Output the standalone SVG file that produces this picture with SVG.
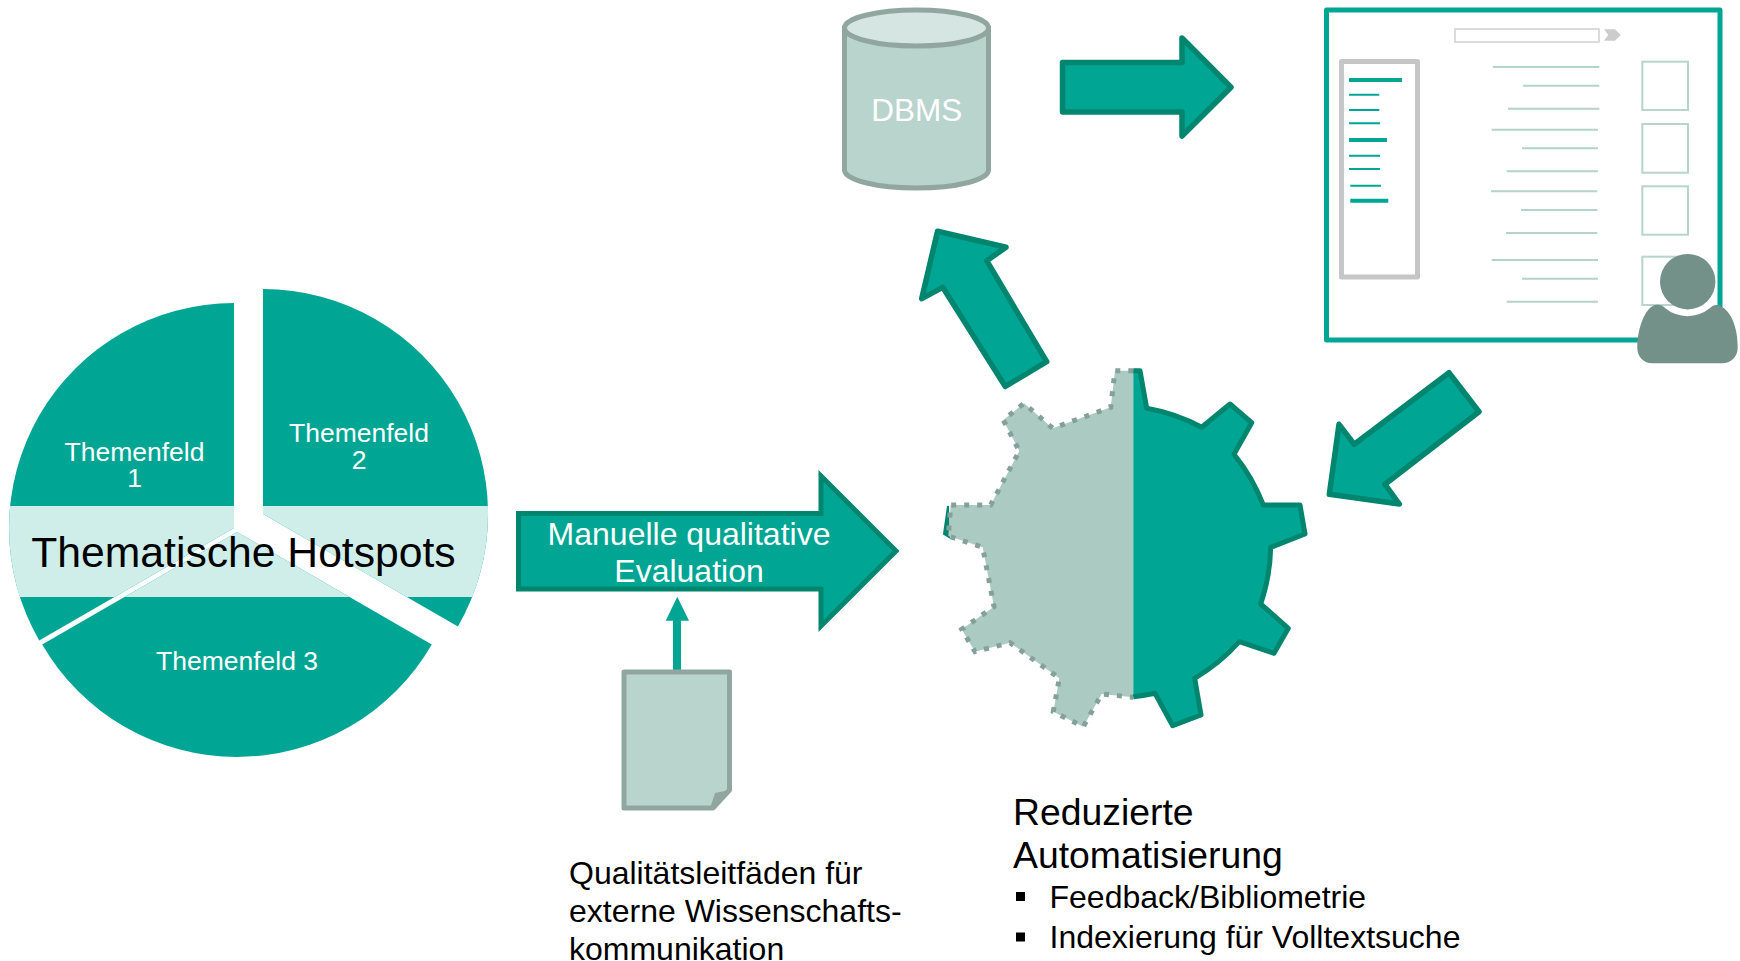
<svg xmlns="http://www.w3.org/2000/svg" width="1740" height="961" viewBox="0 0 1740 961">
<style>
text{font-family:"Liberation Sans",Arial,sans-serif}
.w{fill:#fff}.k{fill:#000}.m{text-anchor:middle}
.slice{fill:#00a693}.band{fill:#cfeeea}
.arrow{fill:#00a693;stroke:#00856f;stroke-width:5.500;stroke-linejoin:round}
.grey{fill:#b8d4cc;stroke:#91a69f;stroke-width:5;stroke-linejoin:round}
.tl{stroke:#00a693;fill:none}.ll{stroke:#b5d3cb;stroke-width:2;fill:none}
.sq{fill:none;stroke:#b8d4cc;stroke-width:2}
</style>
<defs>
<path id="s1" d="M234,528V303A225,225 0 0 0 39.200,640.500Z"/>
<path id="s2" d="M263,514V289A225,225 0 0 1 457.900,626.500Z"/>
<path id="s3" d="M237,532L42.200,644.500A225,225 0 0 0 431.800,644.500Z"/>
<clipPath id="bandClip"><rect x="0" y="506" width="520" height="91"/></clipPath>
</defs>
<rect width="1740" height="961" fill="#fff"/>
<g id="pie">
<use href="#s1" class="slice"/><use href="#s2" class="slice"/><use href="#s3" class="slice"/>
<g clip-path="url(#bandClip)"><use href="#s1" class="band"/><use href="#s2" class="band"/><use href="#s3" class="band"/></g>
<g font-size="26.5" class="w m">
<text x="134.5" y="461">Themenfeld</text><text x="134.5" y="487">1</text>
<text x="359" y="442">Themenfeld</text><text x="359" y="469">2</text>
<text x="237" y="670">Themenfeld 3</text>
</g>
<text x="243.500" y="567" font-size="42.67" class="k m">Thematische Hotspots</text>
</g>
<g id="connectors">
<g id="arrow-evaluation">
<path d="M518.500,513.500H821V476L896,551L821,626V589H518.500Z" class="arrow" style="stroke-linejoin:miter;stroke-width:5"/>
<g font-size="32" class="w m"><text x="689" y="545">Manuelle qualitative</text><text x="689" y="582">Evaluation</text></g>
</g>
<path id="arrow-doc" d="M673,672V620.700H665.700L677.300,596.700L689,620.700H681V672Z" fill="#00a693"/>
<path id="arrow-db-screen" d="M1062.500,62.500H1182V38L1231,87.300L1182,136V112H1062.500Z" class="arrow"/>
<path id="arrow-gear-db" d="M937.500,231.300L1006,247.300L986.700,260.700L1046.700,361.700L1005.300,386.500L942.700,287.300L921.700,298.700Z" class="arrow"/>
<path id="arrow-screen-gear" d="M1449,372.700L1479,411.700L1385,484.300L1399.300,504L1329.300,494.300L1339,424.300L1354.300,444.300Z" class="arrow"/>
</g>
<g id="document">
<path d="M624,672H729.500V790L713,808H624Z" class="grey"/>
<path d="M729.500,790L715,793Q713,800 710,808L714,808Z" fill="#91a69f"/>
<text x="569" y="884" font-size="32" class="k">Qualitätsleitfäden für</text>
<text x="569" y="922" font-size="32" class="k">externe Wissenschafts-</text>
<text x="569" y="959.500" font-size="32" class="k">kommunikation</text>
</g>
<g id="dbms">
<path d="M844.500,28V170A72,18 0 0 0 988.500,170V28Z" class="grey"/>
<ellipse cx="916.500" cy="28" rx="72" ry="18" fill="#d5e6e2" stroke="#91a69f" stroke-width="5"/>
<text x="916.700" y="121" font-size="31.500" class="w m">DBMS</text>
</g>
<g id="gear">
<path d="M948,506L944,534L949,537Z" fill="#00856f" stroke="#00856f" stroke-width="2"/>
<path d="M1133.300,370.700H1115L1110.700,407.300L1052.700,428.300L1024,403.300L1003.300,420L1019.300,451L990.700,505H950.700L948.300,536L982.700,547.300L994,606.700L961.700,629.300L975,651.700L1010,642.700L1059.300,678.300L1053.300,711.700L1083.300,726.700L1101.700,694L1133.300,697.300" fill="#abcac1" stroke="#85a09a" stroke-width="5" stroke-dasharray="5 8"/>
<path d="M1133.300,370.700H1140L1146.700,408.300A186,186 0 0 1 1201.700,427.300L1230,404L1251.700,422.700L1234,454.300A186,186 0 0 1 1263.300,505H1300L1305,534L1270.700,547.300A186,186 0 0 1 1260.700,604L1288.300,628.300L1274,653.300L1239.300,641.700A186,186 0 0 1 1194.700,678.300L1201,715L1172.700,725.700L1155,693.300A186,186 0 0 1 1133.300,696.700Z" fill="#00a693" stroke="none"/>
<path d="M1133.300,370.700H1140L1146.700,408.300A186,186 0 0 1 1201.700,427.300L1230,404L1251.700,422.700L1234,454.300A186,186 0 0 1 1263.300,505H1300L1305,534L1270.700,547.300A186,186 0 0 1 1260.700,604L1288.300,628.300L1274,653.300L1239.300,641.700A186,186 0 0 1 1194.700,678.300L1201,715L1172.700,725.700L1155,693.300A186,186 0 0 1 1133.300,696.700" fill="none" stroke="#00856f" stroke-width="5" stroke-linejoin="round"/>
<text x="1013" y="825" font-size="37.330" class="k">Reduzierte</text>
<text x="1013" y="867.700" font-size="37.330" class="k">Automatisierung</text>
<rect x="1016" y="892" width="9" height="9" fill="#000"/>
<text x="1049.500" y="908" font-size="32" class="k">Feedback/Bibliometrie</text>
<rect x="1016" y="932.500" width="9" height="9" fill="#000"/>
<text x="1049.500" y="948" font-size="32" class="k">Indexierung für Volltextsuche</text>
</g>
<g id="screen">
<rect x="1326.500" y="10" width="393.500" height="330" fill="#fff" stroke="#00a693" stroke-width="5" stroke-linejoin="round"/>
<rect x="1455" y="29" width="144" height="13" fill="#fff" stroke="#d0d0d0" stroke-width="1.500"/>
<path d="M1604,29.300H1615L1620.700,35L1615,40.700H1604L1608.300,35Z" fill="#ccc"/>
<rect x="1341.500" y="61.500" width="76" height="215.500" fill="#fff" stroke="#c6c6c6" stroke-width="5" stroke-linejoin="round"/>
<g class="tl">
<path d="M1349,80H1402M1349,140H1387M1350.300,200.700H1388.300" stroke-width="4"/>
<path d="M1349,94.700H1379.300M1349,110H1379.300M1349,123.300H1380M1349,155.700H1380M1349,169H1380M1350.300,185.700H1381" stroke-width="2"/>
</g>
<path class="ll" d="M1493,67H1599.300M1523,85.700H1599.300M1508,108.700H1599.300M1491.700,129.700H1598M1522,148.300H1598M1506.700,171.300H1598M1491,191.300H1597.300M1521,210H1597.300M1506,233H1597.300M1491.700,260H1598M1522,278.700H1598M1506.700,301.700H1598"/>
<rect class="sq" x="1642.300" y="61.700" width="45.700" height="48.300"/>
<rect class="sq" x="1642.300" y="124" width="45.700" height="48.700"/>
<rect class="sq" x="1642.300" y="186.300" width="45.700" height="48.400"/>
<rect class="sq" x="1642.300" y="256.700" width="45.700" height="48.300"/>
</g>
<g id="user" fill="#739188">
<circle cx="1687.700" cy="281.700" r="27.700"/>
<path d="M1665,308A35,35 0 0 0 1710,308Q1713,304.500 1717,305C1731,308 1738,328 1737.700,348C1737.500,357 1731,363.300 1722,363.300H1652C1644,363.300 1637.300,357 1637.300,348C1637.300,328 1645,308 1655,305Q1661,304 1665,308Z"/>
</g>
</svg>
